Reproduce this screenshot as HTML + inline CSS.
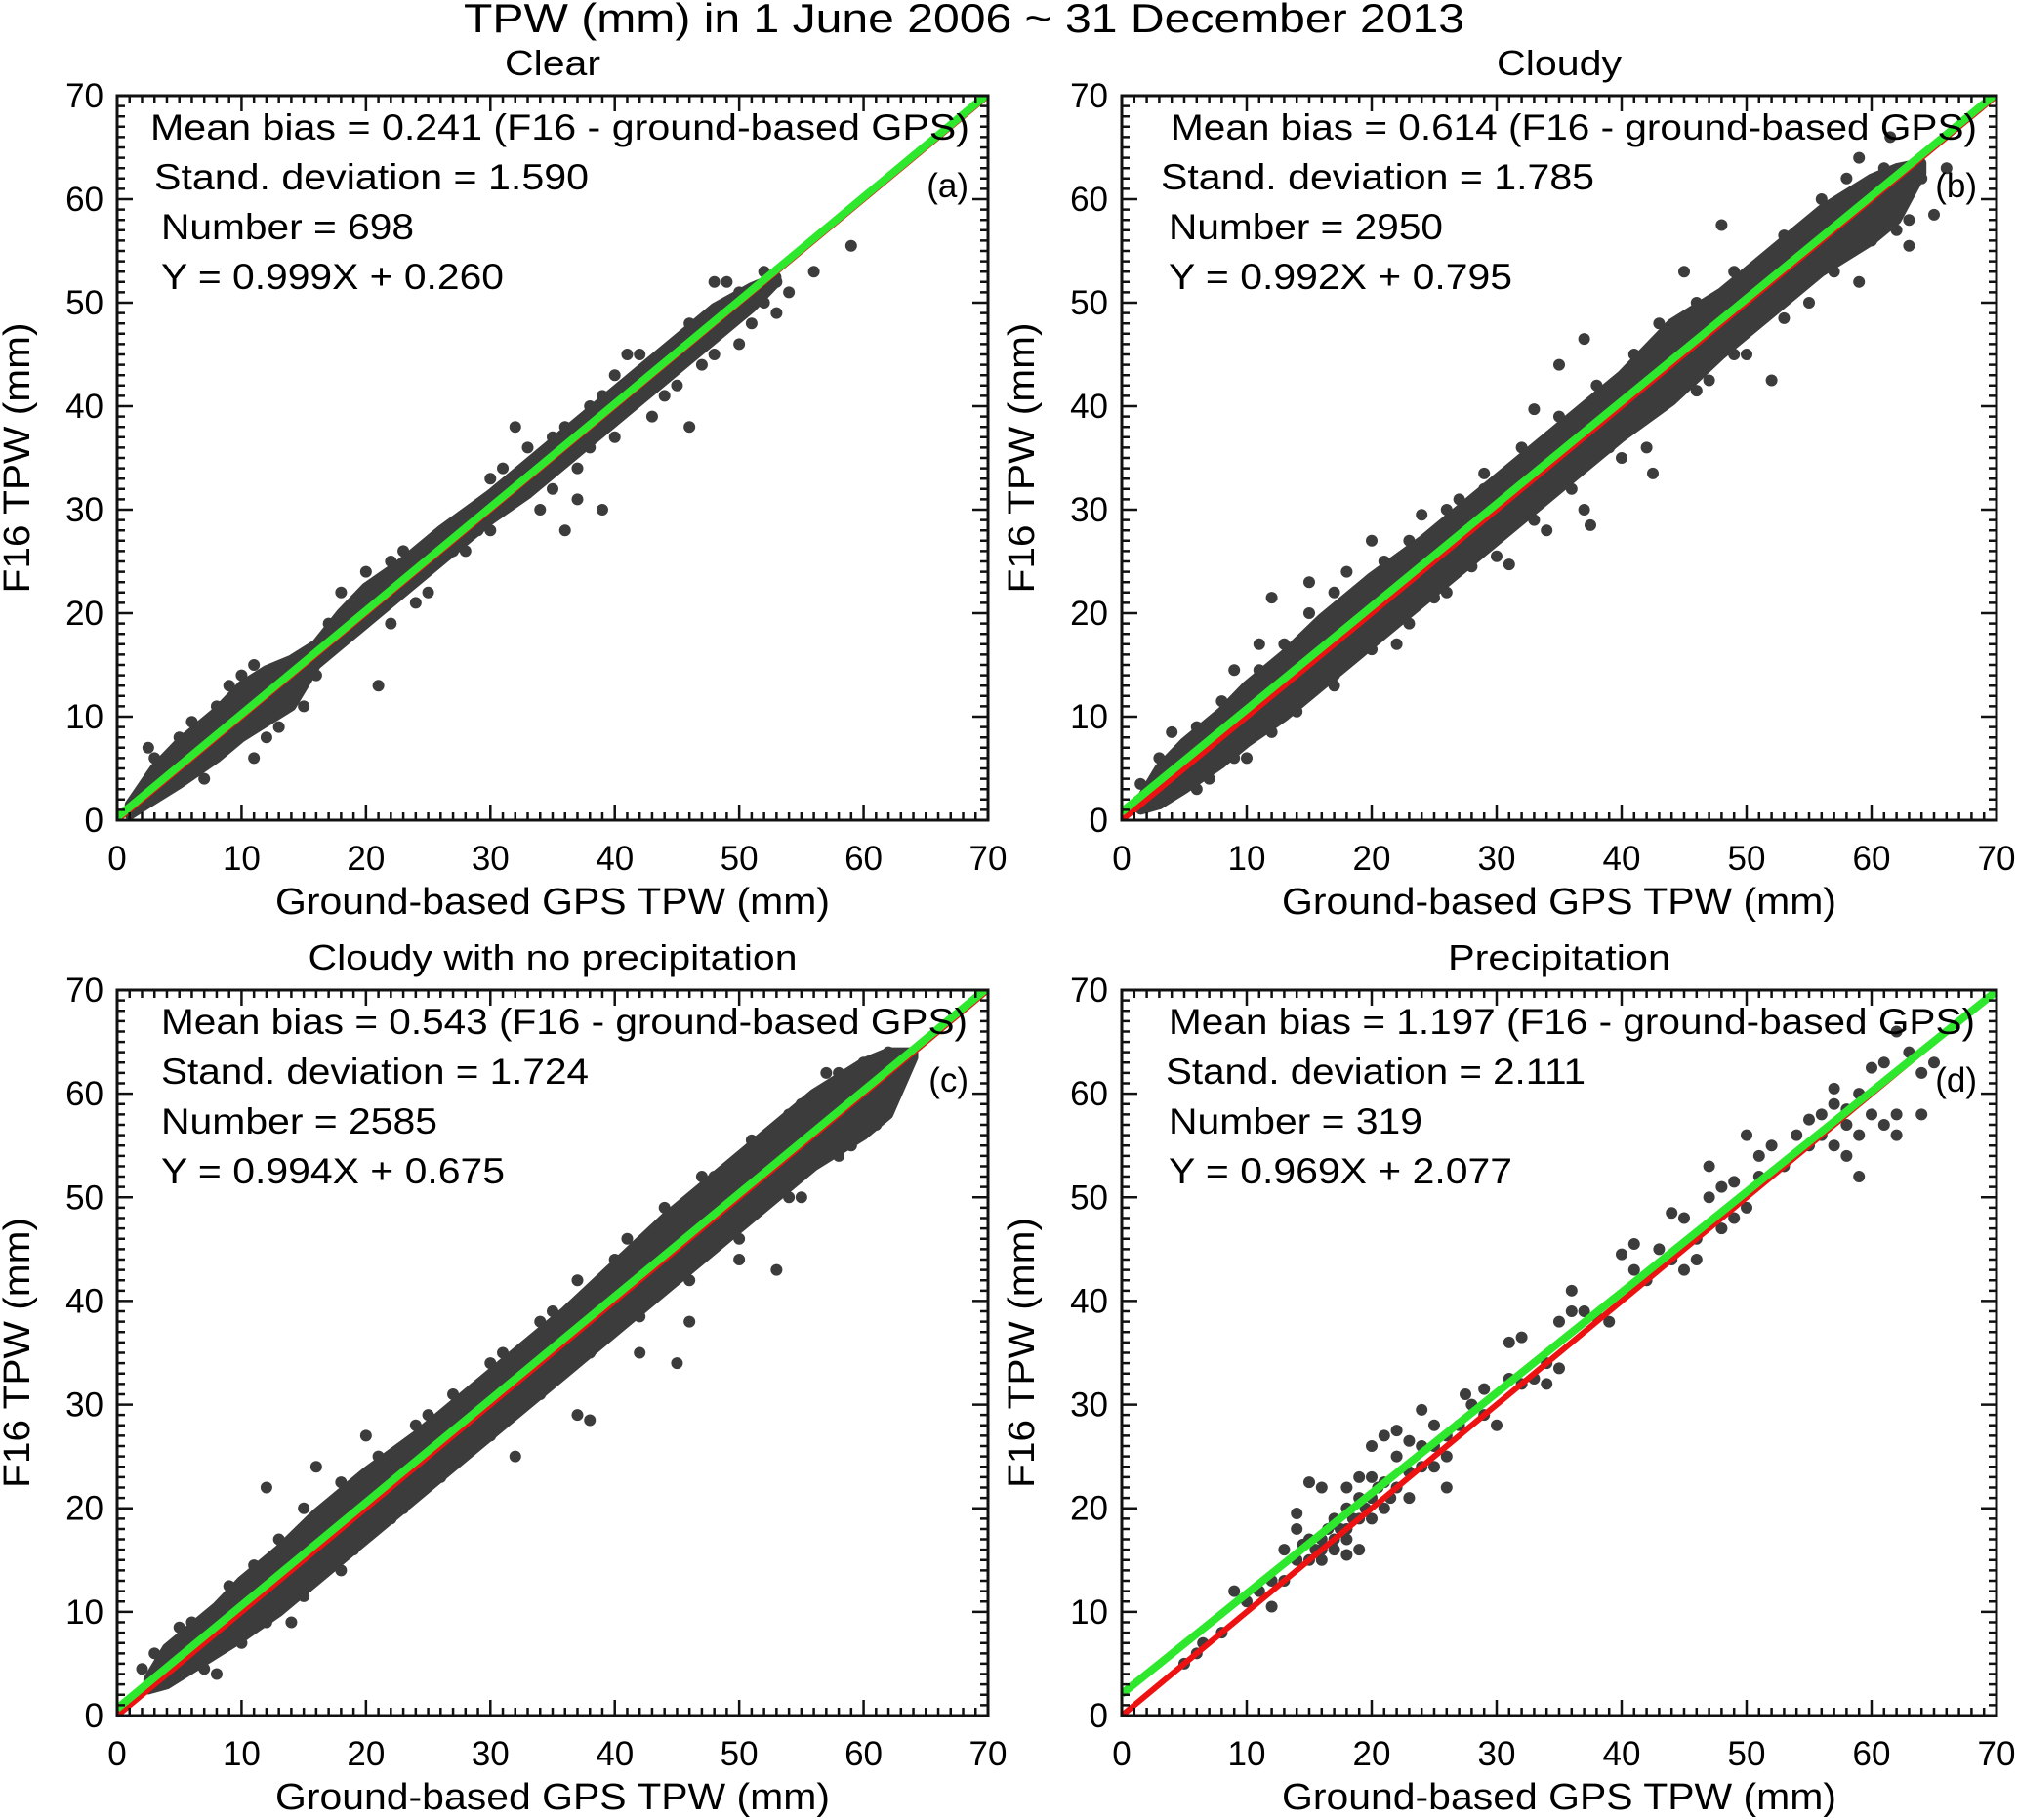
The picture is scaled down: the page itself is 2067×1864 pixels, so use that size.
<!DOCTYPE html>
<html><head><meta charset="utf-8"><style>
html,body{margin:0;padding:0;background:#fff;}
svg{display:block;font-family:"Liberation Sans",Arial,sans-serif;}
</style></head><body>
<svg id="fig" width="2067" height="1864" viewBox="0 0 2067 1864">
<text x="475" y="33" font-size="42" textLength="1025" lengthAdjust="spacingAndGlyphs">TPW (mm) in 1 June 2006 ~ 31 December 2013</text>
</svg>
<script>
// ---- data ----
const tickVals = [0,10,20,30,40,50,60,70];
const titles = ["Clear","Cloudy","Cloudy with no precipitation","Precipitation"];
const panelTags = ["(a)","(b)","(c)","(d)"];
const biasVals = ["0.241","0.614","0.543","1.197"];
const sdVals = ["1.590","1.785","1.724","2.111"];
const numVals = ["698","2950","2585","319"];
const slopes = [0.999,0.992,0.994,0.969];
const intercepts = [0.260,0.795,0.675,2.077];

const bandXA = [1,3,5,8,10,12,14,16,18,20,23,26,30,33,36,40,44,48,51,53];
const bandLoA = [0.5,2,3.5,6,8,9.5,11,15,17,19,22,25,29,31.5,34.5,38.5,42.5,46.5,49.5,52];
const bandHiA = [1.5,5,7.5,10.5,13,14.5,15.5,17,20,22.5,25,28,31.5,34.5,37.5,41.5,45.5,49.5,51.5,52.5];
const bandXB = [1.5,3,5,8,10,13,16,20,24,28,32,36,40,44,48,52,56,60,62,64];
const bandLoB = [1,1.5,3,5.5,7.5,10,13,17,21,25,29,33,37,40.5,45,49,53,56,58,62.5];
const bandHiB = [2,5,7.5,10.5,13,16,19.5,23.5,27,31,35,39,43,48,51,55,59,62,63,63.5];
const bandXC = [2.5,4,6,8,10,13,16,20,24,28,32,36,40,44,48,52,56,60,62,64];
const bandLoC = [2.5,3,4.5,6,7.5,10,13,17,21,25,29,33,37,41,45,49,53,56,58,63.5];
const bandHiC = [3.5,6.5,8.5,10.5,13,16,19.5,23.5,27,31,35,39,43.5,48,52,56,60,63,64,64];
const bandXD = [];
const bandLoD = [];
const bandHiD = [];

const ptsA = [[2.5,7],[4,3],[6,9.5],[9,13],[11,6],[13,14.5],[15,11],[17,19],[21,13],[22,25],[26,27],[29,28],[30,33],[32,38],[34,30],[35,34],[36,28],[38,36],[39,30],[41,45],[43,39],[44,41],[45,46],[46,38],[47,44],[48,52],[50,46],[50,51],[51,48],[52,50],[53,52],[53,49],[56,53],[59,55.5],[18,22],[24,21],[27,26],[37,34],[40,43],[42,42],[31,30],[33,33],[28,29],[25,25],[45,44],[49,49],[19,20],[35,37],[3,6],[5,8],[7,4],[8,11],[10,14],[12,8],[14,15],[16,14],[11,15],[13,9],[15,13.5],[20,24],[22,19],[23,26],[25,22],[28,26],[30,28],[31,34],[33,36],[35,32],[36,38],[37,31],[39,41],[40,37],[42,45],[43,43],[45,42],[46,48],[48,45],[49,52],[51,50],[52,53],[54,51],[34,35],[32,31],[38,40]];
const ptsB = [[1.5,3.5],[4,8.5],[6,3],[9,14.5],[10,6],[11,17],[12,21.5],[14,11.5],[15,23],[17,13],[18,24],[19,17],[20,27],[22,17],[23,19],[24,29.5],[26,22],[27,31],[29,33.5],[30,25.5],[31,24.7],[32,30],[33,39.7],[34,28],[35,44],[37,46.5],[37.5,37.5],[37,30],[37.5,28.5],[38,36],[40,35],[42,36],[42.5,33.5],[44,44],[45,53],[46,41.5],[47,42.5],[48,57.5],[50,45],[52,52],[52,42.5],[55,50],[56,58],[57,56.5],[59,52],[59,64],[61,63],[62,60],[63,58],[64,62],[65,58.5],[66,63],[61.5,66],[63,55.5],[60,56],[3,6],[6,9],[8,11.5],[11,14.5],[13,17],[15,20],[17,22],[21,25],[23,27],[26,30],[29,32],[32,36],[35,39],[38,42],[41,45],[43,48],[46,50],[49,53],[53,56.5],[56,60],[58,62],[7,4],[9,6],[12,8.5],[14,10.5],[17,14],[20,16.5],[25,21.5],[28,24.5],[33,29],[36,32],[39,36],[42,39.5],[45,42],[49,45],[53,48.5],[57,53],[60,56.5],[62,57]];
const ptsC = [[2,4.5],[5,8.5],[8,4],[12,22],[14,9],[16,24],[18,14],[20,27],[22,19],[25,29],[27,25],[30,34],[32,25],[35,39],[37,29],[38,28.5],[40,44],[42,35],[44,47],[45,34],[46,38],[48,52],[50,44],[53,43],[54,58],[55,50],[57,62],[59,55],[60,63],[61,58],[62,64],[60,57],[56,59],[58,61],[61,61],[62,62],[3,6],[6,9],[9,12.5],[11,14.5],[13,17],[15,20],[18,22.5],[21,25],[24,28],[27,31],[31,35],[34,38],[37,42],[41,46],[44,49],[47,52],[51,55.5],[55,59],[58,62],[7,4.5],[10,7],[12,9],[15,11.5],[19,16],[23,20],[26,23],[30,27],[34,31],[38,35],[42,38.5],[46,42],[50,46],[54,50],[58,54],[61,57]];
const ptsD = [[5,5],[6,6],[6.5,7],[8,8],[9,12],[10,11],[11,12],[12,10.5],[12,13],[13,16],[14,15],[14,19.5],[14,18],[13,13],[15,15],[15,22.5],[16,16],[16,17],[16,22],[17,19],[17,17],[18,22],[18,15.5],[18,20],[18,18],[19,16],[19,21],[19,23],[20,19],[20,21],[20,26],[21,20],[21,27],[22,22],[22,25],[23,21],[23,23.5],[24,26],[24,29.5],[25,28],[25,24],[26,25],[26,22],[26,27],[27,28],[27.5,31],[28,30],[29,29],[29,31.5],[30,28],[31,32.5],[32,32],[31,36],[32,36.5],[33,32.5],[34,32],[34,34],[35,38],[35,33.5],[36,39],[36,41],[37,39],[38,38.5],[39,38],[40,44.5],[41,45.5],[41,43],[42,42],[43,45],[44,44],[44,48.5],[45,48],[45,43],[46,44],[46,46],[47,53],[47,50],[48,51],[48,47],[49,48],[49,51.5],[50,56],[50,49],[51,54],[51,52],[52,55],[53,53],[54,56],[55,55],[55,57.5],[56,56],[56,58],[57,55],[57,60.5],[57,59],[58,57],[58,54],[58,58.5],[59,60],[59,56],[59,52],[60,58],[60,62.5],[61,63],[61,57],[62,58],[62,56],[63,64],[64,62],[64,58],[65,63],[62,66],[17,18.5],[16,15],[18,17],[19,19],[15,17],[21,22.5],[20,23],[22,27.5],[23,26.5],[16.5,18],[17.5,18],[18.5,19],[19.5,20],[17,16],[15.5,16],[14.5,16.5],[20.5,22],[21.5,21],[24,24],[25,26]];

const panels = [
 {L:120,R:1012,T:98,B:840,band:[bandXA,bandLoA,bandHiA],pts:ptsA,off:[34,38,45,45],w:[839,445,259,351]},
 {L:1149,R:2045,T:98,B:840,band:[bandXB,bandLoB,bandHiB],pts:ptsB,off:[50,40,48,48],w:[826,444,281,352]},
 {L:120,R:1012,T:1014,B:1757,band:[bandXC,bandLoC,bandHiC],pts:ptsC,off:[45,45,45,45],w:[826,438,283,352]},
 {L:1149,R:2045,T:1014,B:1757,band:[bandXD,bandLoD,bandHiD],pts:ptsD,off:[48,45,48,48],w:[826,430,260,352]}
];
const NS="http://www.w3.org/2000/svg";
const svg=document.getElementById('fig');
function mk(tag,attrs,parent){const e=document.createElementNS(NS,tag);for(const k in attrs)e.setAttribute(k,attrs[k]);(parent||svg).appendChild(e);return e;}
function txt(s,attrs,parent){const e=mk('text',attrs,parent);e.textContent=s;return e;}

panels.forEach((p,i)=>{
  const g=mk('g',{});
  
  
  const sx=v=>p.L+(v/70)*(p.R-p.L);
  const sy=v=>p.B-(v/70)*(p.B-p.T);
  const clipId='clip'+i;
  const cp=mk('clipPath',{id:clipId},g);
  mk('rect',{x:p.L,y:p.T,width:p.R-p.L,height:p.B-p.T},cp);
  const data=mk('g',{'clip-path':'url(#'+clipId+')'},g);
  const [bx,blo,bhi]=p.band;
  if(bx.length){
    let pts=bx.map((x,k)=>sx(x)+','+sy(blo[k]));
    pts=pts.concat(bx.map((x,k)=>sx(x)+','+sy(bhi[k])).reverse());
    const poly=mk('polygon',{points:pts.join(' '),fill:'#3c3c3c',stroke:'#3c3c3c','stroke-width':10,'stroke-linejoin':'round'},data);
    
    
  }
  p.pts.forEach(([x,y])=>{
    const c=mk('circle',{cx:sx(x),cy:sy(y),r:6,fill:'#3c3c3c'},data);
    
    
  });
  const red=mk('line',{x1:sx(0),y1:sy(0),x2:sx(70),y2:sy(70),stroke:'#ee1111','stroke-width':6},data);
  
  
  const gr=mk('line',{x1:sx(0),y1:sy(intercepts[i]),x2:sx(70),y2:sy(slopes[i]*70+intercepts[i]),stroke:'#2ee82e','stroke-width':8},data);
  
  
  const fr=mk('rect',{x:p.L,y:p.T,width:p.R-p.L,height:p.B-p.T,fill:'none',stroke:'#111','stroke-width':3},g);
  
  
  let d='';
  for(let v=0;v<=70;v++){
    const len=(v%10===0)?16:8;
    const X=sx(v),Y=sy(v);
    d+=`M${X},${p.B}v${-len}M${X},${p.T}v${len}M${p.L},${Y}h${len}M${p.R},${Y}h${-len}`;
  }
  mk('path',{d:d,stroke:'#111','stroke-width':2.5,fill:'none'},g);
  tickVals.forEach(v=>{
    const t=txt(String(v),{x:sx(v),y:p.B+51,'font-size':35,'text-anchor':'middle'},g);
    
    
    const t2=txt(String(v),{x:p.L-14,y:sy(v)+12,'font-size':35,'text-anchor':'end'},g);
    
    
  });
  const cx=(p.L+p.R)/2, cy=(p.T+p.B)/2;
  const xt=txt('Ground-based GPS TPW (mm)',{x:cx,y:p.B+96,'font-size':38,'text-anchor':'middle',textLength:568,lengthAdjust:'spacingAndGlyphs'},g);
  
  
  const yt=txt('F16 TPW (mm)',{x:0,y:0,'font-size':38,'text-anchor':'middle',textLength:277,lengthAdjust:'spacingAndGlyphs',transform:`translate(${p.L-90},${cy}) rotate(-90)`},g);
  
  
  const tl={0:98,1:128,2:501,3:228}[i];
  const tt=txt(titles[i],{x:cx,y:p.T-21,'font-size':36,'text-anchor':'middle',textLength:tl,lengthAdjust:'spacingAndGlyphs'},g);
  
  
  const lines=['Mean bias = '+biasVals[i]+' (F16 - ground-based GPS)','Stand. deviation = '+sdVals[i],'Number = '+numVals[i],'Y = '+slopes[i].toFixed(3)+'X + '+intercepts[i].toFixed(3)];
  const names=['mean-bias-text','std-dev-text','number-text','regression-equation'];
  lines.forEach((s,k)=>{
    const t=txt(s,{x:p.L+p.off[k],y:p.T+45+k*51,'font-size':37,textLength:p.w[k],lengthAdjust:'spacingAndGlyphs'},g);
    
    
  });
  const tg=txt(panelTags[i],{x:p.R-20,y:p.T+104,'font-size':35,'text-anchor':'end'},g);
  
  
});
</script>
</body></html>
